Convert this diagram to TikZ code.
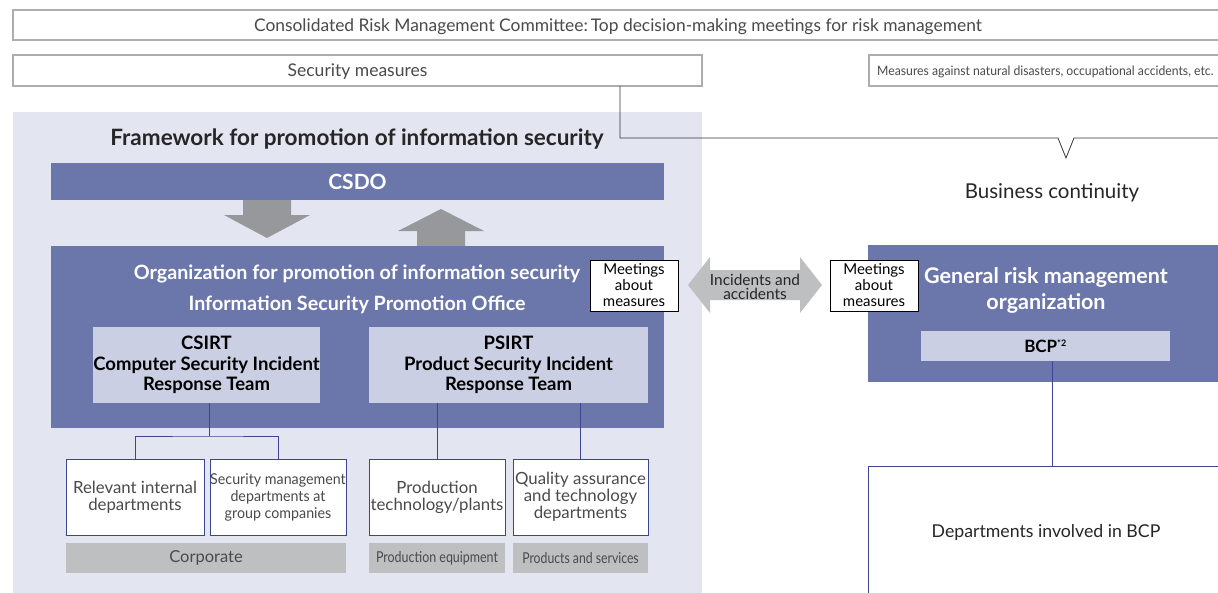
\documentclass[tikz,border=0pt]{standalone}
\usepackage{fontspec}
\setmainfont{Lato}
\usetikzlibrary{calc}
\definecolor{panel}{HTML}{E3E5F1}
\definecolor{dark}{HTML}{6B77AB}
\definecolor{lightb}{HTML}{CACFE4}
\definecolor{grayb}{HTML}{BEBFC1}
\definecolor{grayarr}{HTML}{97989B}
\definecolor{lineb}{HTML}{3B4590}
\definecolor{topgray}{HTML}{ADADAD}
\definecolor{txtgray}{HTML}{4A4A4A}
\newcommand{\fs}[2]{\fontsize{#1}{#2}\selectfont}
\begin{document}
\begin{tikzpicture}[x=1pt,y=-1pt,
  outerbox/.style={draw=topgray, line width=1.6pt, fill=white, inner sep=0pt, text=txtgray},
  darkbox/.style={fill=dark, inner sep=0pt, text=white},
  lightbox/.style={fill=lightb, inner sep=0pt, align=center, text=black},
  deptbox/.style={draw=lineb, line width=1pt, fill=white, inner sep=0pt, align=center, text=txtgray},
  graybox/.style={fill=grayb, inner sep=0pt, text=txtgray},
  meetbox/.style={draw=black, line width=0.8pt, fill=white, inner sep=0pt, align=center, text=black, font=\fs{15}{16}},
  conn/.style={draw=lineb, line width=1pt},
  thin/.style={draw=black!80, line width=0.8pt},
  plain/.style={inner sep=0pt, align=center}]
\useasboundingbox (0,0) rectangle (1218,592);
\clip (0,0) rectangle (1218,592);

% top boxes
\node[outerbox, minimum width=1210, minimum height=30, font=\fs{17.4}{20}, text depth=0pt] (crm) at (618,25)
  {Consolidated Risk Management Committee:\,Top decision-making meetings for risk management};
\node[outerbox, minimum width=689, minimum height=31, font=\fs{17.5}{20}, text depth=0pt] (secm) at (357.5,70.5) {Security measures};
\node[outerbox, minimum width=380, minimum height=31, anchor=west] (natm) at (868,70.5) {};
\node[plain, anchor=west, text=txtgray, font=\fs{13}{15}] (natt) at (877,72)
  {\scalebox{0.94}[1]{Measures against natural disasters, occupational accidents, etc.}};

% panel
\fill[panel] (13,112) rectangle (702,600);
\node[plain, text=black!85, font=\fs{22.5}{25}\bfseries] (fw) at (357,139) {Framework for promotion of information security};

% connector from security measures to business continuity
\coordinate (c1) at (620,86);
\coordinate (c2) at (620,138);
\coordinate (v1) at (1058,138);
\coordinate (v2) at (1066,158);
\coordinate (v3) at (1074,138);
\coordinate (c3) at (1230,138);
\draw[thin] (c1) -- (c2) -- (v1) -- (v2) -- (v3) -- (c3);
\node[plain, text=black!85, font=\fs{20.5}{23}] (bc) at (1052,193) {Business continuity};

% CSDO
\node[darkbox, minimum width=613, minimum height=37, font=\fs{21}{24}\bfseries] (csdo) at (357.5,181.5) {CSDO};

% gray arrows
\fill[grayarr] (243,200) -- (291,200) -- (291,215) -- (310,215) -- (267,238) -- (224,215) -- (243,215) -- cycle;
\fill[grayarr] (417,246) -- (465,246) -- (465,231) -- (484,231) -- (441,209) -- (398,231) -- (417,231) -- cycle;

% organization box
\node[darkbox, minimum width=613, minimum height=182] (org) at (357.5,337) {};
\node[plain, text=white, font=\fs{19.7}{22}\bfseries] (orgt1) at (357,274) {Organization for promotion of information security};
\node[plain, text=white, font=\fs{19.7}{22}\bfseries] (orgt2) at (357,305) {Information Security Promotion Office};

\node[lightbox, minimum width=227, minimum height=76, font=\fs{18.5}{20.5}\bfseries] (csirt) at (206.5,365)
  {CSIRT\\Computer Security Incident\\Response Team};
\node[lightbox, minimum width=279, minimum height=76, font=\fs{18.5}{20.5}\bfseries] (psirt) at (508.5,365)
  {PSIRT\\Product Security Incident\\Response Team};

% meetings boxes and double arrow
\node[meetbox, minimum width=88, minimum height=51] (meetl) at (634,285.5) {Meetings\\about\\measures};
\fill[grayb] (688,285) -- (710,257) -- (710,270) -- (800,270) -- (800,257) -- (822,285) -- (800,313) -- (800,300) -- (710,300) -- (710,313) -- cycle;
\node[plain, text=black!85, font=\fs{15.4}{14}] (inc) at (755,287) {Incidents and\\accidents};

% general risk management
\node[darkbox, minimum width=370, minimum height=137, anchor=west] (grm) at (868,313.5) {};
\node[meetbox, minimum width=88, minimum height=51] (meetr) at (874,285.5) {Meetings\\about\\measures};
\node[plain, text=white, font=\fs{21.5}{26}\bfseries] (grmt) at (1046,290) {General risk management\\organization};
\node[lightbox, minimum width=249, minimum height=30, font=\fs{17}{19}\bfseries] (bcp) at (1045.5,346) {BCP\textsuperscript{\fs{9}{9}*2}};

% departments involved in BCP
\node[deptbox, minimum width=400, minimum height=200, anchor=north west] (bcpd) at (868,466) {};
\node[plain, text=black!85, font=\fs{17.7}{20}] (bcpdt) at (1046,532) {Departments involved in BCP};
\coordinate (bcpl) at ($(bcp.south)+(6.5,0)$);
\draw[conn] (bcpl) -- (bcpl |- bcpd.north);

% bottom departments
\node[deptbox, minimum width=138, minimum height=76, font=\fs{16.8}{17}] (rel) at (135,497) {Relevant internal\\departments};
\node[deptbox, minimum width=136, minimum height=76, font=\fs{15}{17}] (sec) at (278,497)
  {\scalebox{0.95}[1]{Security management}\\\scalebox{0.95}[1]{departments at}\\\scalebox{0.95}[1]{group companies}};
\node[deptbox, minimum width=136, minimum height=76, font=\fs{16.8}{17}] (prod) at (437,497) {Production\\technology/plants};
\node[deptbox, minimum width=135, minimum height=76, font=\fs{16.8}{17}] (qa) at (580.5,497) {Quality assurance\\and technology\\departments};

\coordinate (cj) at (209,436);
\draw[conn] (csirt.south -| cj) -- (cj);
\draw[conn] (rel.north) |- (cj) -| (sec.north);
\draw[conn] (prod.north) -- (prod.north |- psirt.south);
\draw[conn] (qa.north) -- (qa.north |- psirt.south);

% gray category boxes
\node[graybox, minimum width=280, minimum height=30, font=\fs{16.5}{19}] (corp) at (206,558) {Corporate};
\node[graybox, minimum width=136, minimum height=30, font=\fs{15}{18}] (peq) at (437,558) {\scalebox{0.83}[1]{Production equipment}};
\node[graybox, minimum width=135, minimum height=30, font=\fs{15}{18}] (pas) at (580.5,558) {\scalebox{0.815}[1]{Products and services}};
\end{tikzpicture}
\end{document}
